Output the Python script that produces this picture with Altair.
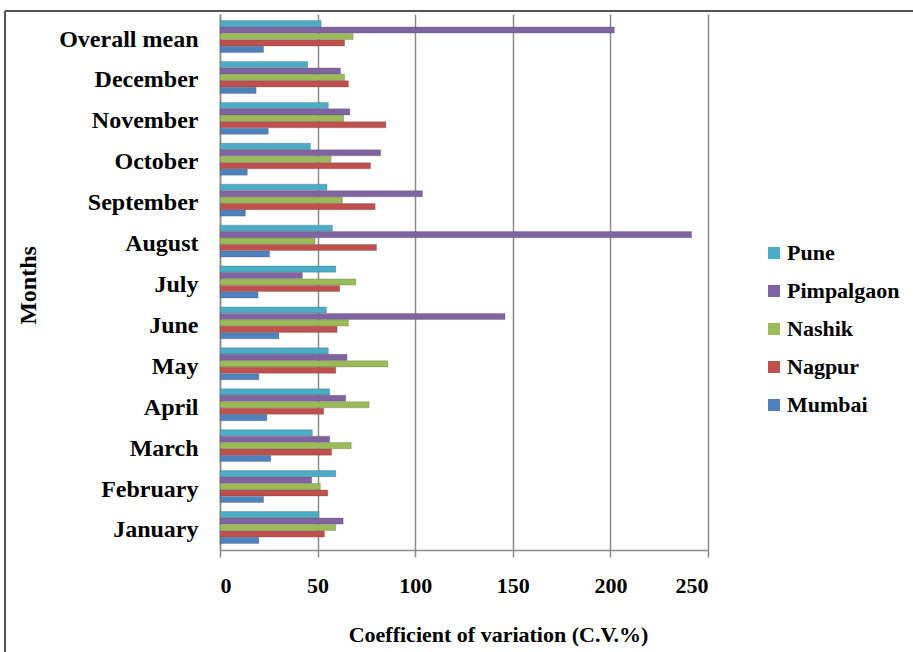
import altair as alt
import pandas as pd

# Months listed top to bottom as they appear on the axis
months = ["Overall mean", "December", "November", "October", "September", "August",
          "July", "June", "May", "April", "March", "February", "January"]
cities = ["Pune", "Pimpalgaon", "Nashik", "Nagpur", "Mumbai"]
colors = ["#4BACC6", "#8064A2", "#9BBB59", "#C0504D", "#4F81BD"]

# Coefficient of variation (%) per month, in the order of `months`
pune =       [51.8, 44.9, 55.5, 46.3, 54.8, 57.6, 59.3, 54.5, 55.5, 56.2, 47.3, 59.3, 50.7]
pimpalgaon = [202.0, 61.7, 66.5, 82.3, 103.7, 241.6, 42.2, 146.0, 65.1, 64.4, 56.2, 47.0, 63.1]
nashik =     [68.2, 63.8, 63.4, 56.9, 62.7, 48.7, 69.6, 65.8, 86.0, 76.4, 67.2, 51.4, 59.3]
nagpur =     [63.8, 65.8, 85.0, 77.1, 79.5, 80.2, 61.3, 60.0, 59.3, 53.1, 57.2, 55.2, 53.5]
mumbai =     [22.3, 18.5, 24.7, 14.0, 13.0, 25.4, 19.5, 30.2, 19.9, 24.0, 26.0, 22.3, 19.9]
x_ticks = [0, 50, 100, 150, 200, 250]

series = {"Pune": pune, "Pimpalgaon": pimpalgaon, "Nashik": nashik,
          "Nagpur": nagpur, "Mumbai": mumbai}
rows = []
for city in cities:
    for month, v in zip(months, series[city]):
        rows.append({"Month": month, "City": city, "CV": v})
df = pd.DataFrame(rows)

FONT = "Liberation Serif"
W, H = 488, 536

bars = alt.Chart(df).mark_bar(stroke="#3a3a3a", strokeWidth=0.4, strokeOpacity=0.6).encode(
    x=alt.X("CV:Q",
            scale=alt.Scale(domain=[0, 250], nice=False),
            axis=alt.Axis(values=x_ticks, title="Coefficient of variation (C.V.%)",
                          grid=True, gridColor="#8c8c8c", gridWidth=1.5,
                          domainColor="#8c8c8c", domainWidth=1.5,
                          tickColor="#8c8c8c", tickWidth=1.5, tickSize=7,
                          labelFont=FONT, labelFontWeight="bold", labelFontSize=22,
                          labelColor="#000000", labelPadding=18,
                          titleFont=FONT, titleFontWeight="bold", titleFontSize=22,
                          titleColor="#000000", titleX=278, titleY=74,
                          titleBaseline="top")),
    y=alt.Y("Month:N", sort=months,
            scale=alt.Scale(paddingInner=0.22, paddingOuter=0.16),
            axis=alt.Axis(title="Months", ticks=False, grid=False,
                          domainColor="#8c8c8c", domainWidth=1.5,
                          labelFont=FONT, labelFontWeight="bold", labelFontSize=24,
                          labelColor="#000000", labelPadding=22, labelOffset=3,
                          titleFont=FONT, titleFontWeight="bold", titleFontSize=24,
                          titleColor="#000000", titleAngle=-90, titleX=-192,
                          titleY=271, titleBaseline="middle", titleAlign="center")),
    yOffset=alt.YOffset("City:N", sort=cities, scale=alt.Scale(paddingInner=0.05)),
    color=alt.Color("City:N",
                    scale=alt.Scale(domain=cities, range=colors),
                    legend=alt.Legend(title=None, orient="none", legendX=543, legendY=228,
                                      symbolType="square", symbolSize=144,
                                      symbolStrokeWidth=0, rowPadding=16,
                                      labelFont=FONT, labelFontWeight="bold",
                                      labelFontSize=22, labelColor="#000000",
                                      labelOffset=2)),
)

frame_data = alt.Data(values=[{"k": 0}])
frame_top = alt.Chart(frame_data).mark_rule(color="#555555", strokeWidth=2).encode(
    x=alt.value(-215), x2=alt.value(700), y=alt.value(-3))
frame_left = alt.Chart(frame_data).mark_rule(color="#555555", strokeWidth=2).encode(
    x=alt.value(-215), y=alt.value(-3), y2=alt.value(645))

chart = alt.layer(bars, frame_top, frame_left).properties(
    width=W, height=H,
    autosize=alt.AutoSizeParams(type="none"),
    padding={"left": 220, "top": 14, "right": 205, "bottom": 102},
    background="#ffffff",
).configure_view(stroke=None).configure_legend(
    labelFont=FONT, labelFontWeight="bold", labelFontSize=22
)

chart.save("out.html", embed_options={"renderer": "svg", "actions": False})
